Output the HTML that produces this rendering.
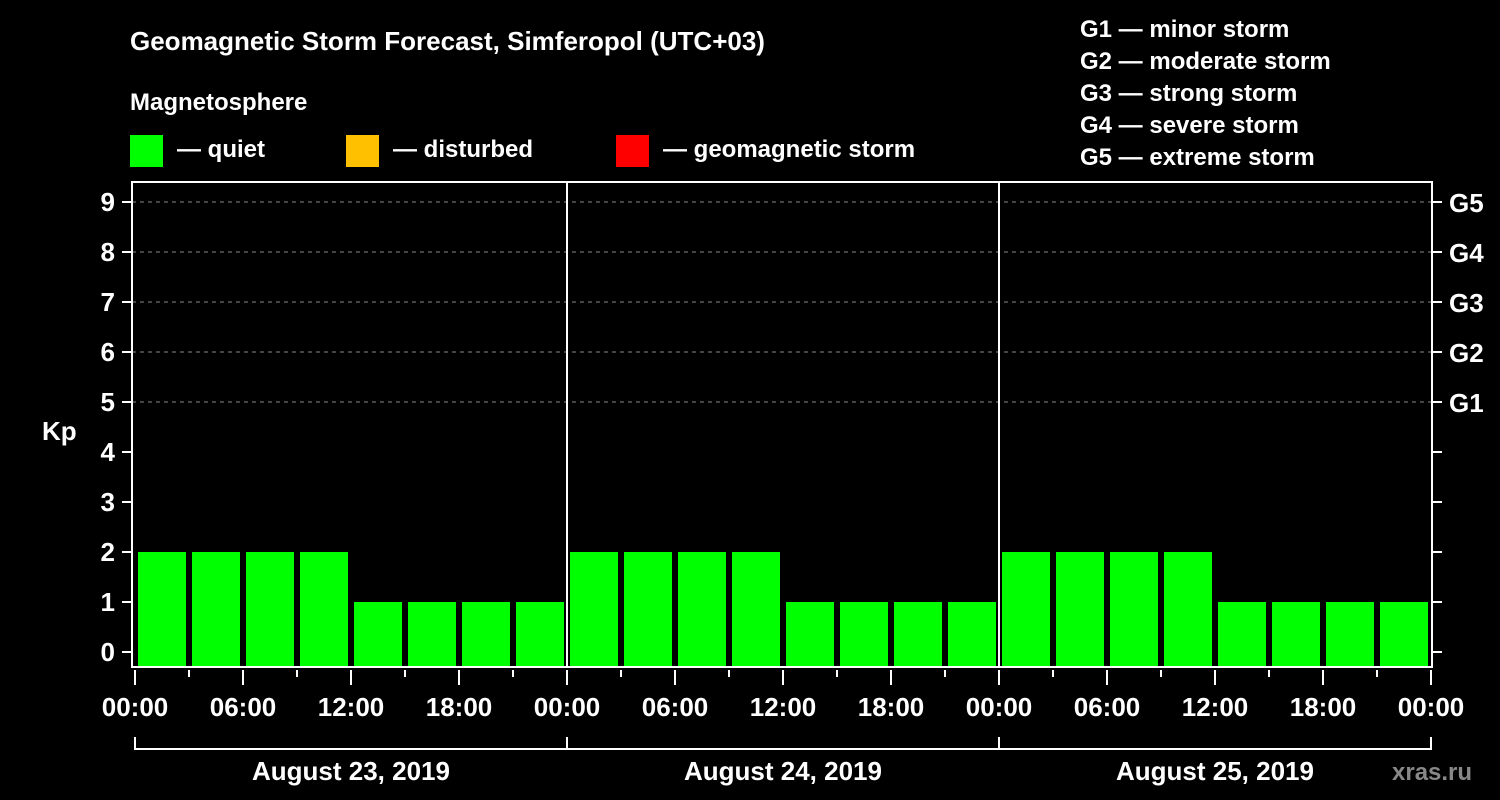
<!DOCTYPE html>
<html><head><meta charset="utf-8"><style>
html,body{margin:0;padding:0;background:#000;}
svg{display:block;font-family:"Liberation Sans",Arial,sans-serif;font-weight:bold;}
</style></head><body>
<svg id="chart" width="1500" height="800" viewBox="0 0 1500 800">
<text x="130" y="50" fill="#fff" font-size="26">Geomagnetic Storm Forecast, Simferopol (UTC+03)</text>
<text x="130" y="110" fill="#fff" font-size="24">Magnetosphere</text>
<g><rect x="130" y="135" width="33" height="32" fill="#00ff00"/><text x="177" y="157" fill="#fff" font-size="24">— quiet</text></g>
<g><rect x="346" y="135" width="33" height="32" fill="#ffc000"/><text x="393" y="157" fill="#fff" font-size="24">— disturbed</text></g>
<g><rect x="616" y="135" width="33" height="32" fill="#ff0000"/><text x="663" y="157" fill="#fff" font-size="24">— geomagnetic storm</text></g>
<g fill="#fff" font-size="24">
<text x="1080" y="37">G1 — minor storm</text>
<text x="1080" y="69">G2 — moderate storm</text>
<text x="1080" y="101">G3 — strong storm</text>
<text x="1080" y="133">G4 — severe storm</text>
<text x="1080" y="165">G5 — extreme storm</text>
</g>
<text x="42" y="440" fill="#fff" font-size="26">Kp</text>
<text x="1392" y="780" fill="#888" font-size="24">xras.ru</text>
<g id="plot"></g>
</svg>
<script>
const days = ["August 23, 2019","August 24, 2019","August 25, 2019"];
const kpValues = [2,2,2,2,1,1,1,1, 2,2,2,2,1,1,1,1, 2,2,2,2,1,1,1,1];
const yTicks = [0,1,2,3,4,5,6,7,8,9];
const gLabels = {5:"G1",6:"G2",7:"G3",8:"G4",9:"G5"};
const xTickLabels = ["00:00","06:00","12:00","18:00"];

const NS="http://www.w3.org/2000/svg";
const plot=document.getElementById('plot');
const L=132,R=1432,T=182,B=667,X0=135,DAYW=432;
const y=v=>652-v*50;
const xh=h=>X0+h*18; // hours from start
function el(tag,attrs,parent){const e=document.createElementNS(NS,tag);for(const k in attrs)e.setAttribute(k,attrs[k]);(parent||plot).appendChild(e);return e;}

yTicks.forEach(v=>{
  if(gLabels[v]){const g=el('line',{x1:L,x2:R,y1:y(v),y2:y(v),stroke:'#888','stroke-dasharray':'4,4','stroke-width':1});
    
    }
  const t=el('line',{x1:122,x2:L,y1:y(v),y2:y(v),stroke:'#fff','stroke-width':2});
  
  
  const t2=el('line',{x1:R,x2:1442,y1:y(v),y2:y(v),stroke:'#fff','stroke-width':2});
  
  
  const lb=el('text',{x:115,y:y(v)+9,fill:'#fff','font-size':26,'text-anchor':'end'});
  lb.textContent=v;
  
  
  if(gLabels[v]){const g=el('text',{x:1449,y:y(v)+10,fill:'#fff','font-size':26});
    g.textContent=gLabels[v];
    
    }
});

kpValues.forEach((v,i)=>{
  const x=xh(i*3)+3;
  const c=v>=5?'#ff0000':(v>=4?'#ffc000':'#00ff00');
  const r=el('rect',{x:x,y:y(v),width:48,height:B-y(v),fill:c});
  
  
});

const fr=el('rect',{x:L,y:T,width:R-L,height:B-T,fill:'none',stroke:'#fff','stroke-width':2});


for(let d=1;d<days.length;d++){
  const s=el('line',{x1:X0+d*DAYW,x2:X0+d*DAYW,y1:T,y2:B,stroke:'#fff','stroke-width':2});
  
  
}
for(let h=0;h<=days.length*24;h+=3){
  const major=h%6===0;
  const t=el('line',{x1:xh(h),x2:xh(h),y1:670,y2:major?685:677,stroke:'#fff','stroke-width':2});
  
  
  if(major){const lb=el('text',{x:xh(h),y:716,fill:'#fff','font-size':26,'text-anchor':'middle'});
    lb.textContent=xTickLabels[(h/6)%4];
    
    }
}
days.forEach((d,i)=>{
  const x1=X0+i*DAYW,x2=x1+DAYW;
  const p=el('path',{d:`M${x1},737V749H${x2}V737`,stroke:'#fff','stroke-width':2,fill:'none'});
  
  
  const t=el('text',{x:(x1+x2)/2,y:780,fill:'#fff','font-size':26,'text-anchor':'middle'});
  t.textContent=d;
  
  
});
</script>
</body></html>
